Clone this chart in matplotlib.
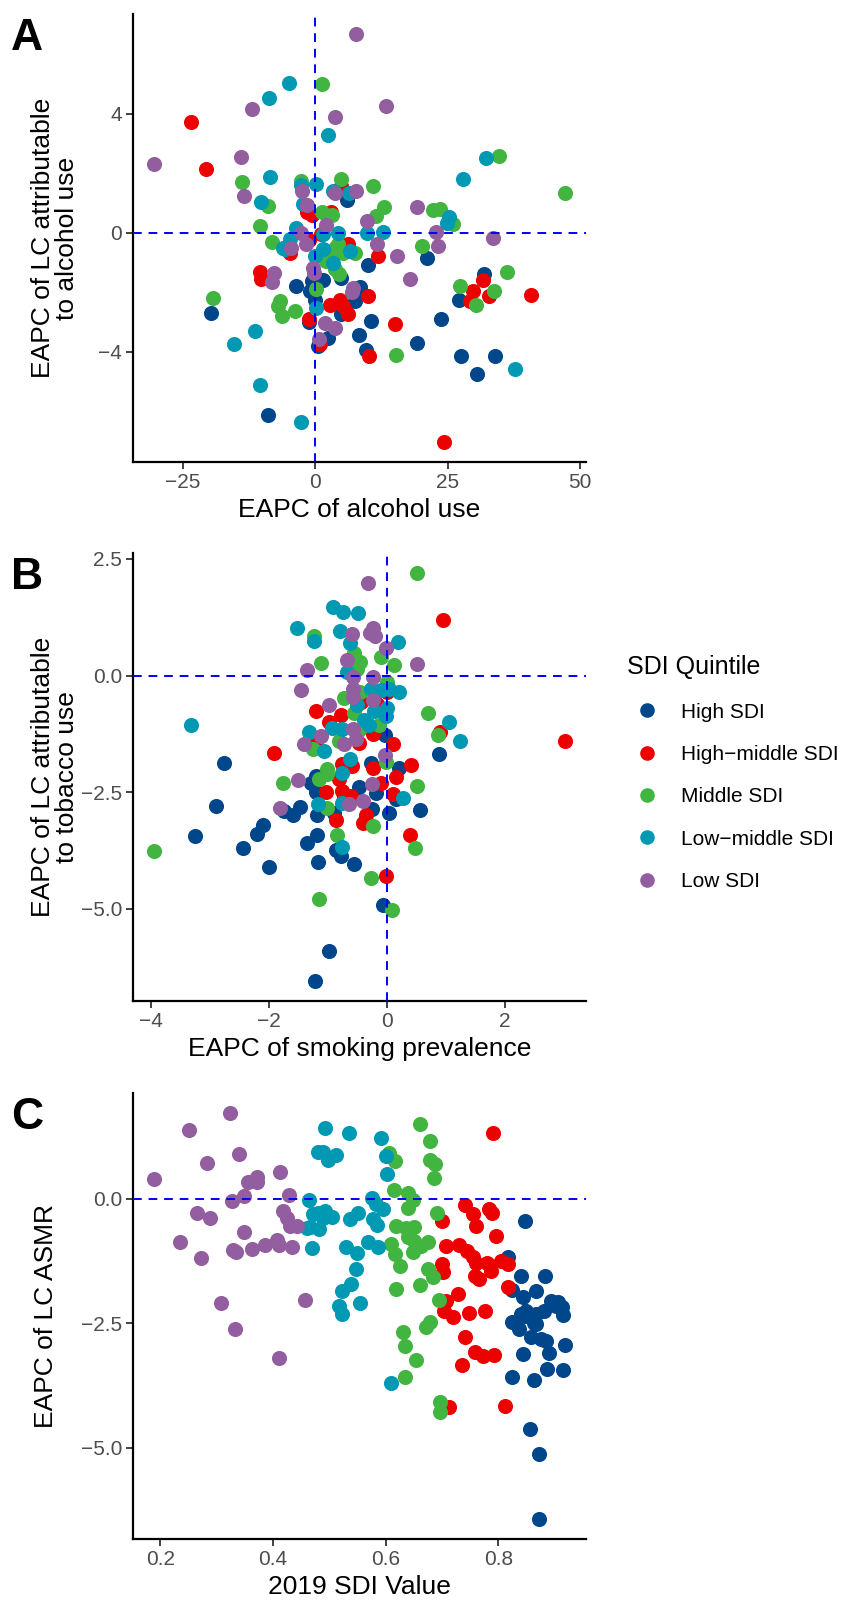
import matplotlib.pyplot as plt
from matplotlib.lines import Line2D
from matplotlib.ticker import FuncFormatter

plt.rcParams['font.family'] = ['Liberation Sans', 'DejaVu Sans']

groups = ["High SDI", "High\u2212middle SDI", "Middle SDI", "Low\u2212middle SDI", "Low SDI"]
colors = ["#00468B", "#ED0000", "#42B540", "#0099B4", "#925E9F"]

# ---- panel A : EAPC of alcohol use vs EAPC of LC attributable to alcohol
a_high_x = [5.9, 4.9, -0.7, -1.0, -0.1, -3.6, -19.6, -1.1, 4.9, 2.4, 0.5, -8.9, 8.3, 21.0, 10.0,
            8.5, 7.5, 10.6, 9.5, 19.2, 23.8, 27.2, 31.8, 27.5, 33.9, 30.6, -0.4, 1.5, 8.4]
a_high_y = [1.11, -1.51, -1.62, -1.96, -2.24, -1.77, -2.69, -3.00, -2.74, -3.53, -3.79, -6.12, -3.42, -0.86, -1.09,
            -1.99, -2.30, -2.97, -3.92, -3.70, -2.89, -2.24, -1.40, -4.12, -4.15, -4.74, -1.68, -1.57, -1.81]
a_hm_x = [-23.4, -20.7, 4.8, -1.5, -0.7, 2.9, 1.0, -1.2, 6.2, -4.8, -10.5, -10.2, -1.2, 2.7, 4.6,
          5.3, 6.2, 0.9, 11.9, 10.0, 15.0, 10.2, 29.8, 29.2, 31.6, 32.7, 40.8, 24.3]
a_hm_y = [3.71, 2.13, 1.57, 0.71, 0.59, 0.69, -0.05, -0.25, -0.39, -0.67, -1.32, -1.54, -2.91, -2.41, -2.24,
          -2.46, -2.74, -3.72, -0.78, -2.13, -3.06, -4.12, -1.96, -2.30, -1.57, -2.13, -2.09, -7.01]
a_mid_x = [1.3, -13.8, -9.0, 4.8, 1.2, 3.2, -10.4, -8.2, -2.6, 4.3, 10.9, 13.0, 11.4, 22.3, 23.6, 26.0,
           27.3, 34.7, 47.2, 20.2, 3.7, 2.8, 2.1, 5.3, 4.5, 0.1, -19.2, -6.7, -7.0, -6.2, -3.9, 7.5,
           15.2, 30.3, 33.8, 36.2, 3.7]
a_mid_y = [5.00, 1.72, 0.90, 1.82, 0.69, 0.61, 0.23, -0.31, 1.75, -0.39, 1.57, 0.87, 0.56, 0.78, 0.80, 0.31,
           -1.77, 2.58, 1.33, -0.43, -0.50, -0.72, -0.95, -0.67, -1.37, -1.88, -2.18, -2.30, -2.46, -2.78, -2.63, -0.69,
           -4.09, -2.41, -1.96, -1.31, -1.23]
a_lm_x = [-4.9, -8.7, 2.4, -8.5, -2.6, 0.1, 3.3, 6.3, -10.3, -2.3, -3.6, 1.4, 4.2, -4.8, 9.7, 12.8,
          25.2, 24.8, 27.8, 32.3, -5.8, -0.1, 6.5, 3.4, 0.2, -11.4, -15.4, -10.5, -2.6, 37.6, 1.5, -6.1]
a_lm_y = [5.02, 4.53, 3.28, 1.87, 1.61, 1.64, 1.41, 1.35, 1.02, 0.96, 0.16, -0.05, -0.02, -0.22, -0.02, 0.04,
          0.54, 0.34, 1.82, 2.50, -0.56, -0.78, -0.61, -1.00, -2.52, -3.30, -3.72, -5.10, -6.34, -4.57, -0.56, -0.50]
a_low_x = [7.7, -12.0, 3.7, -30.5, -14.0, -13.4, -2.5, 3.8, 7.7, -1.5, 2.1, -2.7, -1.7, 13.4, 9.7, 11.6,
           19.2, 22.7, 33.6, 23.1, -4.5, -0.4, -0.3, -7.8, -8.1, 1.8, 3.7, 0.7, 7.0, 15.5, 17.9, 7.2]
a_low_y = [6.66, 4.14, 3.88, 2.32, 2.54, 1.24, 1.41, 1.33, 1.41, 0.94, 0.25, 0.00, -0.36, 4.24, 0.38, -0.36,
           0.87, 0.02, -0.19, -0.45, -0.50, -1.17, -1.34, -1.34, -1.66, -3.03, -3.19, -3.56, -1.99, -0.78, -1.54, -1.85]

# ---- panel B : EAPC of smoking prevalence vs EAPC of LC attributable to tobacco
b_high_x = [-0.03, -2.76, -0.27, 0.20, -1.21, -1.29, -1.21, -0.73, -0.47, -0.19, 0.15, -1.47, -1.59, -1.19,
            -0.90, -0.26, 0.04, 0.57, -1.18, -1.35, -0.87, -0.78, -1.17, -0.56, -0.07, -0.98, -1.22, 0.88,
            -3.25, -2.90, -2.45, -2.20, -2.00, -2.10, -1.75]
b_high_y = [-1.27, -1.88, -1.87, -1.98, -2.15, -2.30, -2.49, -2.59, -2.40, -2.51, -2.64, -2.82, -3.00, -2.98,
            -2.94, -2.87, -2.94, -2.89, -3.41, -3.58, -3.75, -3.87, -3.99, -4.04, -4.92, -5.90, -6.54, -1.68,
            -3.45, -2.80, -3.70, -3.40, -4.10, -3.20, -2.90]
b_hm_x = [0.01, -0.44, -0.16, -1.21, -0.78, -0.99, -0.23, -1.18, -0.47, 0.10, -1.92, -0.77, -0.60, -0.23,
          0.41, 0.15, -0.82, -1.04, -0.76, -0.61, -0.10, 0.11, -0.87, -0.36, -0.41, 0.40, -0.01, 0.95, 0.90, 3.03]
b_hm_y = [-0.35, -0.57, -0.60, -0.76, -0.84, -1.00, -1.25, -1.36, -1.45, -1.47, -1.66, -1.89, -1.94, -1.99,
          -1.92, -2.17, -2.21, -2.50, -2.48, -2.58, -2.31, -2.55, -3.10, -2.98, -3.16, -3.41, -4.30, 1.20, -1.22, -1.40]
b_mid_x = [-1.24, -0.55, -0.45, -0.10, 0.12, -1.11, -0.50, 0.01, -0.45, -0.73, -0.55, -0.13, -0.47, -1.25,
           -0.81, -0.02, -1.01, 0.51, -1.76, -1.02, -1.15, -1.02, -0.24, 0.48, -0.84, -0.27, -1.15, 0.08,
           0.51, 0.86, 0.70, -3.96]
b_mid_y = [0.85, 0.48, 0.30, 0.40, 0.22, 0.26, 0.15, -0.14, -0.35, -0.48, -0.80, -1.07, -1.16, -1.58,
           -1.40, -1.85, -2.00, -2.37, -2.31, -2.12, -2.21, -2.84, -3.23, -3.70, -3.41, -4.33, -4.80, -5.03,
           2.19, -1.28, -0.80, -3.77]
b_lm_x = [-0.91, -0.74, -0.49, -1.53, -1.24, -0.80, -0.62, 0.18, -0.68, -0.27, -0.10, 0.04, 0.21, -0.51,
          -0.22, 0.00, -0.02, -3.32, -0.93, -0.76, -0.39, -0.30, -1.33, -1.06, -0.63, -0.76, 0.27, -1.17,
          -0.76, -0.77, 1.05, 1.24]
b_lm_y = [1.46, 1.36, 1.35, 1.02, 0.74, 0.96, 0.69, 0.71, 0.08, -0.28, -0.32, -0.28, -0.35, -0.63,
          -0.75, -0.70, -0.86, -1.07, -1.13, -1.14, -0.96, -1.07, -1.22, -1.61, -1.78, -2.08, -2.62, -2.76,
          -2.73, -3.68, -0.99, -1.41]
b_low_x = [-0.32, -0.60, -0.24, -0.28, -0.20, -0.02, -0.68, -1.35, -0.58, -0.23, -1.45, -0.57, -0.58, -0.23,
           -0.99, -0.58, -1.12, -1.41, -0.73, -0.53, -0.03, -1.51, -0.26, -1.81, -0.64, -0.40, 0.51]
b_low_y = [1.99, 0.89, 1.02, 0.91, 0.84, 0.60, 0.33, 0.12, -0.03, -0.03, -0.32, -0.28, -0.46, -0.53,
           -0.64, -1.14, -1.29, -1.47, -1.47, -1.36, -1.71, -2.24, -2.33, -2.84, -2.76, -2.69, 0.24]

# ---- panel C : 2019 SDI vs EAPC of LC ASMR
c_high_x = [0.848, 0.817, 0.841, 0.883, 0.825, 0.843, 0.866, 0.893, 0.905, 0.913, 0.881, 0.866, 0.849, 0.840,
            0.914, 0.824, 0.864, 0.837, 0.848, 0.867, 0.902, 0.858, 0.876, 0.884, 0.919, 0.843, 0.889, 0.824,
            0.864, 0.886, 0.915, 0.856, 0.873, 0.873]
c_high_y = [-0.45, -1.18, -1.55, -1.56, -1.83, -1.97, -1.85, -2.05, -2.08, -2.17, -2.25, -2.31, -2.25, -2.31,
            -2.33, -2.48, -2.50, -2.61, -2.35, -2.51, -2.15, -2.78, -2.81, -2.85, -2.93, -3.11, -3.10, -3.57,
            -3.63, -3.41, -3.43, -4.63, -5.13, -6.42]
c_hm_x = [0.791, 0.740, 0.755, 0.760, 0.784, 0.789, 0.700, 0.795, 0.707, 0.730, 0.744, 0.755, 0.761, 0.779,
          0.787, 0.804, 0.817, 0.700, 0.701, 0.759, 0.766, 0.817, 0.728, 0.707, 0.704, 0.719, 0.747, 0.777,
          0.740, 0.758, 0.772, 0.793, 0.736, 0.712, 0.812]
c_hm_y = [1.31, -0.13, -0.31, -0.55, -0.21, -0.28, -0.45, -0.76, -0.95, -0.93, -1.05, -1.18, -1.30, -1.30,
          -1.45, -1.25, -1.31, -1.31, -1.48, -1.55, -1.61, -1.78, -1.91, -2.05, -2.25, -2.38, -2.29, -2.26,
          -2.77, -3.08, -3.15, -3.13, -3.33, -4.17, -4.15]
c_mid_x = [0.606, 0.616, 0.614, 0.619, 0.610, 0.616, 0.625, 0.619, 0.661, 0.679, 0.678, 0.688, 0.686, 0.640,
           0.648, 0.640, 0.691, 0.636, 0.651, 0.640, 0.651, 0.663, 0.675, 0.648, 0.675, 0.684, 0.661, 0.695,
           0.679, 0.671, 0.631, 0.634, 0.654, 0.634, 0.696, 0.696]
c_mid_y = [0.92, 0.75, 0.17, -0.56, -0.91, -1.11, -1.35, -1.81, 1.50, 1.15, 0.77, 0.69, 0.42, 0.12,
           -0.03, -0.18, -0.28, -0.59, -0.58, -0.77, -0.85, -0.95, -0.88, -1.08, -1.41, -1.58, -1.73, -2.03,
           -2.48, -2.58, -2.68, -2.95, -3.23, -3.57, -4.08, -4.28]
c_lm_x = [0.492, 0.535, 0.592, 0.480, 0.489, 0.498, 0.512, 0.600, 0.603, 0.463, 0.576, 0.583, 0.595, 0.471,
          0.480, 0.492, 0.504, 0.488, 0.465, 0.482, 0.460, 0.536, 0.551, 0.578, 0.585, 0.470, 0.529, 0.549,
          0.569, 0.586, 0.548, 0.539, 0.522, 0.555, 0.517, 0.523, 0.610]
c_lm_y = [1.41, 1.31, 1.21, 0.94, 0.94, 0.77, 0.87, 0.85, 0.49, -0.03, 0.02, -0.11, -0.20, -0.31,
          -0.28, -0.25, -0.37, -0.38, -0.58, -0.61, -0.59, -0.41, -0.28, -0.41, -0.53, -0.99, -0.98, -1.10,
          -0.88, -0.98, -1.41, -1.71, -1.86, -2.10, -2.15, -2.31, -3.70]
c_low_x = [0.323, 0.251, 0.283, 0.339, 0.188, 0.412, 0.371, 0.356, 0.372, 0.348, 0.327, 0.429, 0.265, 0.289,
           0.417, 0.424, 0.430, 0.442, 0.348, 0.234, 0.272, 0.329, 0.335, 0.363, 0.386, 0.407, 0.411, 0.433,
           0.308, 0.457, 0.333, 0.410]
c_low_y = [1.71, 1.37, 0.72, 0.89, 0.40, 0.54, 0.43, 0.34, 0.34, 0.05, -0.05, 0.07, -0.29, -0.39,
           -0.25, -0.38, -0.55, -0.56, -0.67, -0.88, -1.19, -1.03, -1.08, -1.01, -0.93, -0.83, -0.93, -0.98,
           -2.09, -2.03, -2.61, -3.20]

panel_a = [(a_high_x, a_high_y), (a_hm_x, a_hm_y), (a_mid_x, a_mid_y), (a_lm_x, a_lm_y), (a_low_x, a_low_y)]
panel_b = [(b_high_x, b_high_y), (b_hm_x, b_hm_y), (b_mid_x, b_mid_y), (b_lm_x, b_lm_y), (b_low_x, b_low_y)]
panel_c = [(c_high_x, c_high_y), (c_hm_x, c_hm_y), (c_mid_x, c_mid_y), (c_lm_x, c_lm_y), (c_low_x, c_low_y)]

W, H = 853, 1605
fig = plt.figure(figsize=(W / 100, H / 100), dpi=100)

left, width = 133 / W, 453 / W
ax_a = fig.add_axes([left, 1 - 462 / H, width, 448 / H])
ax_b = fig.add_axes([left, 1 - 1001 / H, width, 448 / H])
ax_c = fig.add_axes([left, 1 - 1539 / H, width, 446 / H])

minus = lambda s: s.replace("-", "\u2212")
fmt1 = FuncFormatter(lambda v, p: minus(f"{v:.1f}"))

def draw(ax, data, vline=True):
    for (xs, ys), col in zip(data, colors):
        ax.scatter(xs, ys, s=118, color=col, linewidths=0, zorder=2)
    ax.margins(0.05)
    ax.axhline(0, color="#0000FF", lw=1.4, ls=(0, (4.5, 3.5)), zorder=3)
    if vline:
        ax.axvline(0, color="#0000FF", lw=1.4, ls=(0, (4.5, 3.5)), zorder=3)
    for s in ["top", "right"]:
        ax.spines[s].set_visible(False)
    for s in ["left", "bottom"]:
        ax.spines[s].set_linewidth(1.6)
    ax.tick_params(length=5, width=1.3, color="#333333", labelcolor="#4D4D4D", labelsize=15, pad=3)

draw(ax_a, panel_a)
ax_a.set_xticks([-25, 0, 25, 50])
ax_a.set_yticks([-4, 0, 4])
ax_a.set_xlabel("EAPC of alcohol use", fontsize=19, labelpad=4)
ax_a.set_ylabel("EAPC of LC attributable\nto alcohol use", fontsize=19, linespacing=1.0)
ax_a.yaxis.set_label_coords(-0.12, 0.5)

draw(ax_b, panel_b)
ax_b.set_xticks([-4, -2, 0, 2])
ax_b.set_yticks([-5, -2.5, 0, 2.5])
ax_b.yaxis.set_major_formatter(fmt1)
ax_b.set_xlabel("EAPC of smoking prevalence", fontsize=19, labelpad=4)
ax_b.set_ylabel("EAPC of LC attributable\nto tobacco use", fontsize=19, linespacing=1.0)
ax_b.yaxis.set_label_coords(-0.12, 0.5)

draw(ax_c, panel_c, vline=False)
ax_c.set_xticks([0.2, 0.4, 0.6, 0.8])
ax_c.set_yticks([-5, -2.5, 0])
ax_c.yaxis.set_major_formatter(fmt1)
ax_c.set_xlabel("2019 SDI Value", fontsize=19, labelpad=4)
ax_c.set_ylabel("EAPC of LC ASMR", fontsize=19)
ax_c.yaxis.set_label_coords(-0.165, 0.5)

for ax, letter in zip([ax_a, ax_b, ax_c], "ABC"):
    top = ax.get_position().y1
    fig.text(11 / W, top - 4 / H, letter, fontsize=32, fontweight="bold", va="top", ha="left")

handles = [Line2D([], [], marker="o", ls="", markersize=10.5, markeredgewidth=0, color=c) for c in colors]
fig.legend(handles, groups, title="SDI Quintile", loc="center left", bbox_to_anchor=(627 / W, 1 - 773 / H),
           frameon=False, fontsize=15, title_fontsize=18, alignment="left", labelspacing=1.12,
           handlelength=1.9, handletextpad=0.7, borderpad=0, borderaxespad=0)

fig.savefig("out.png", dpi=100)
